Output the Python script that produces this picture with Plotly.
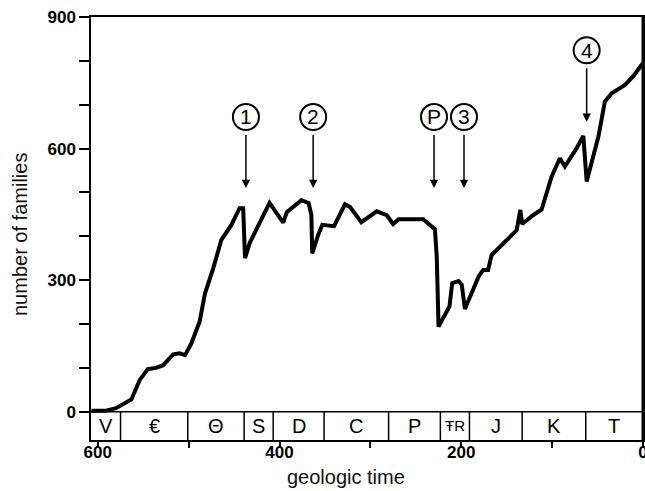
import plotly.graph_objects as go

# ---- data ----
ages = [607, 592, 580, 563, 554, 545, 536, 528, 517, 510, 504, 497, 488, 482, 473,
        464, 453, 444, 440, 438, 433, 411, 396, 392, 376, 368, 365, 364, 357.5, 353,
        340, 328, 322.6, 310, 293, 282, 275, 269, 242, 229, 227, 225, 213, 210, 203,
        199.5, 196, 181, 176, 170.5, 166.6, 154, 141, 139, 135, 133, 121, 111.6,
        100.6, 91.5, 86, 73, 65.7, 62, 49, 42, 34.5, 19.8, 10.7, 0]
families = [2, 2, 8, 28, 72, 97, 100, 106, 131, 133, 129, 156, 205, 270, 327,
            392, 426, 464, 464, 350, 384, 476, 431, 455, 482, 476, 449, 361, 403, 426,
            423, 473, 467, 432, 457, 448, 428, 439, 439, 416, 354, 194, 240, 293, 298,
            290, 234, 308, 323, 323, 357, 384, 411, 414, 460, 428, 448, 461,
            536, 578, 559, 601, 629, 525, 628, 707, 726, 745, 765, 795]

period_bounds = [607.5, 575, 501, 439, 407, 351, 280, 223, 191, 133, 63, 0]
period_labels = ["V", "€", "Θ", "S", "D", "C", "P", "ŦR", "J", "K", "T"]

event_labels = ["1", "2", "P", "3", "4"]
event_ages = [437, 363, 230, 197, 62]
event_circle_y = [672, 672, 672, 672, 824]
event_tip_y = [510, 510, 510, 510, 661]

x_ticks = [600, 500, 400, 300, 200, 100, 0]
x_ticktext = ["600", "", "400", "", "200", "", "0"]
y_ticks = [0, 100, 200, 300, 400, 500, 600, 700, 800, 900]
y_ticktext = ["0", "", "", "300", "", "", "600", "", "", "900"]

# ---- layout constants ----
W, H = 645, 491
ML, MR, MT, MB = 91, 2, 17, 51
XR = [607.5, 0]
YR = [-64.5, 900]
px_per_x = (W - ML - MR) / (XR[0] - XR[1])
px_per_y = (H - MT - MB) / (YR[1] - YR[0])

fig = go.Figure()
fig.add_trace(go.Scatter(x=ages, y=families, mode="lines",
                         line=dict(color="black", width=4),
                         hoverinfo="skip", showlegend=False))

shapes = []
shapes.append(dict(type="line", xref="x", yref="y", x0=XR[0], x1=XR[1], y0=0, y1=0,
                   line=dict(color="black", width=1.5)))
for b in period_bounds[1:-1]:
    shapes.append(dict(type="line", xref="x", yref="y", x0=b, x1=b, y0=0, y1=YR[0],
                       line=dict(color="black", width=1.5)))
shapes.append(dict(type="line", xref="x", yref="paper", x0=0, x1=0, y0=0, y1=1,
                   line=dict(color="black", width=3)))

annotations = []
for i, lab in enumerate(period_labels):
    xc = (period_bounds[i] + period_bounds[i + 1]) / 2
    fs = 20 if lab != "ŦR" else 15
    annotations.append(dict(x=xc, y=YR[0] / 2, xref="x", yref="y", text=lab,
                            xanchor="center", yanchor="middle",
                            showarrow=False, font=dict(family="Arial", size=fs, color="black")))

r_px = 13
for lab, a, cy, ty in zip(event_labels, event_ages, event_circle_y, event_tip_y):
    rx = r_px / px_per_x
    ry = r_px / px_per_y
    shapes.append(dict(type="circle", xref="x", yref="y", x0=a + rx, x1=a - rx,
                       y0=cy - ry, y1=cy + ry, line=dict(color="black", width=2)))
    annotations.append(dict(x=a, y=cy, xref="x", yref="y", text=lab, showarrow=False,
                            xanchor="center", yanchor="middle",
                            font=dict(family="Arial", size=21, color="black")))
    tail_y = cy - (r_px + 3.5) / px_per_y
    annotations.append(dict(x=a, y=ty, xref="x", yref="y", ax=a, ay=tail_y,
                            axref="x", ayref="y", text="", showarrow=True,
                            arrowhead=2, arrowsize=1.1, arrowwidth=1.5,
                            arrowcolor="black", standoff=0))

annotations.append(dict(x=(346 - ML) / (W - ML - MR), y=(H - MB - 477) / (H - MT - MB),
                        xref="paper", yref="paper", text="geologic time", showarrow=False,
                        xanchor="center", yanchor="middle",
                        font=dict(family="Arial", size=20, color="#111")))
annotations.append(dict(x=(20 - ML) / (W - ML - MR), y=(H - MB - 235) / (H - MT - MB),
                        xref="paper", yref="paper", text="number of families",
                        xanchor="center", yanchor="middle",
                        textangle=-90, showarrow=False,
                        font=dict(family="Arial", size=20, color="#111")))

fig.update_layout(
    width=W, height=H,
    margin=dict(l=ML, r=MR, t=MT, b=MB, pad=0, autoexpand=False),
    paper_bgcolor="white", plot_bgcolor="white",
    shapes=shapes, annotations=annotations,
    xaxis=dict(range=XR, showgrid=False, zeroline=False, showline=True, mirror=True,
               automargin=False, ticklabelstandoff=-10, ticklabeloverflow="allow",
               linecolor="black", linewidth=1.5, ticks="outside", ticklen=6,
               tickwidth=1.5, tickcolor="black", tickvals=x_ticks,
               ticktext=["<b>%s</b>" % t if t else "" for t in x_ticktext],
               tickfont=dict(family="Arial", size=17, color="black")),
    yaxis=dict(range=YR, showgrid=False, zeroline=False, showline=True, mirror=True,
               automargin=False, ticklabeloverflow="allow",
               linecolor="black", linewidth=1.5, ticks="outside", ticklen=10,
               tickwidth=1.5, tickcolor="black", tickvals=y_ticks,
               ticktext=["<b>%s</b>" % t if t else "" for t in y_ticktext],
               tickfont=dict(family="Arial", size=17, color="black")),
)

fig.write_html("out.html", config={"displayModeBar": False},
               post_script="document.body.style.margin='0';document.body.style.overflow='hidden';")
